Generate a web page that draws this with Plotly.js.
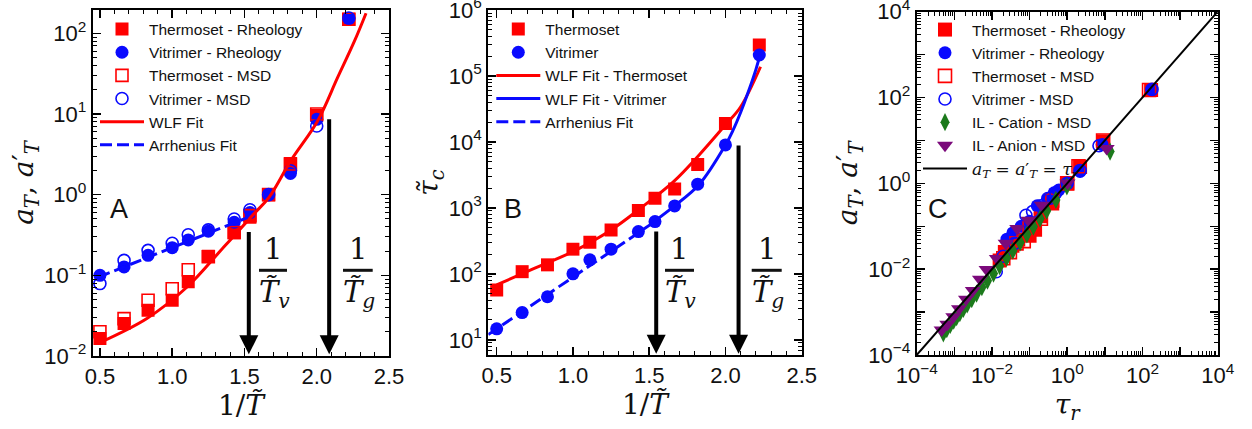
<!DOCTYPE html>
<html>
<head>
<meta charset="utf-8">
<script src="https://cdn.plot.ly/plotly-3.0.1.min.js"></script>
<style>html,body{margin:0;padding:0;background:#fff;}#chart{width:1252px;height:429px;}</style>
</head>
<body>
<div id="chart"></div>
<script>
// ---------- Panel A data ----------
const invT = [0.5, 0.667, 0.833, 1.0, 1.111, 1.25, 1.429, 1.538, 1.667, 1.818, 2.0, 2.222];
const aT_thermoRheo = [0.0165, 0.0253, 0.037, 0.049, 0.083, 0.172, 0.336, 0.525, 1.0, 2.44, 9.6, 150];
const aT_vitriRheo  = [0.1, 0.127, 0.177, 0.22, 0.275, 0.352, 0.455, 0.6, 1.0, 1.83, 8.6, 152];
const aT_thermoMSD  = [0.02, 0.029, 0.049, 0.068, 0.117, 0.17, 0.34, 0.55, 1.0, 2.4, 10, 150];
const aT_vitriMSD   = [0.079, 0.153, 0.204, 0.25, 0.318, 0.366, 0.5, 0.65, 1.0, 1.98, 7.1, 155];
const wlfA_x = [0.49, 0.825, 1.103, 1.357, 1.565, 1.67, 1.82, 2.006, 2.144, 2.26, 2.341];
const wlfA_y = [0.0144, 0.0292, 0.0716, 0.224, 0.578, 0.927, 2.63, 8.2, 28.2, 79.4, 178];
const arrA_x = [0.49, 1.52];
const arrA_y = [0.095, 0.52];

// ---------- Panel B data ----------
const tauC_thermo = [57, 108, 137, 237, 302, 464, 912, 1400, 1940, 4570, 19000, 295000];
const tauC_vitri  = [14.7, 25.9, 45, 100, 163, 237, 437, 620, 1070, 2290, 9000, 208000];
const wlfBT_x = [0.5, 0.75, 1.0, 1.25, 1.443, 1.66, 1.826, 2.0, 2.099, 2.23];
const wlfBT_y = [68, 122, 218, 464, 990, 2510, 6300, 18200, 33900, 138000];
const wlfBV_x = [1.53, 1.66, 1.826, 2.0, 2.05, 2.1, 2.15, 2.2, 2.228];
const wlfBV_y = [617, 1047, 2239, 9000, 15100, 28200, 57500, 126000, 214000];
const arrB_x = [0.445, 1.55];
const arrB_y = [12, 650];

// ---------- Panel C data ----------
const tauR_TR = [0.016, 0.022, 0.035, 0.05, 0.1, 0.14, 0.2, 0.4, 1.0, 2.2, 9.0, 170];
const aTc_TR  = [0.016, 0.025, 0.035, 0.049, 0.06, 0.083, 0.17, 0.34, 1.0, 2.4, 9.5, 150];
const tauR_VR = [0.025, 0.036, 0.06, 0.1, 0.16, 0.3, 0.45, 0.6, 1.0, 2.2, 8.5, 175];
const aTc_VR  = [0.05, 0.07, 0.1, 0.13, 0.3, 0.45, 0.6, 0.7, 1.0, 1.9, 8.0, 152];
const tauR_TM = [0.02, 0.03, 0.045, 0.07, 0.1, 0.2, 0.4, 1.0, 2.0, 9.0, 150];
const aTc_TM  = [0.018, 0.025, 0.04, 0.045, 0.1, 0.15, 0.4, 1.0, 2.5, 10, 150];
const tauR_VM = [0.013, 0.02, 0.04, 0.08, 0.12, 0.2, 0.35, 0.5, 1.0, 2.2, 7.0, 180];
const aTc_VM  = [0.0087, 0.02, 0.04, 0.18, 0.22, 0.3, 0.45, 0.6, 1.0, 2.0, 7.5, 155];
const tauR_ILc = [5.1e-4, 6.3e-4, 7.8e-4, 9.6e-4, 1.15e-3, 1.4e-3, 1.74e-3, 2.2e-3, 2.9e-3, 3.9e-3, 5.4e-3, 7.6e-3, 0.011, 0.016, 0.0245, 0.036, 0.056, 0.085, 0.126, 0.19, 0.285, 0.5, 0.98, 13.8];
const aTc_ILc  = [3.2e-4, 4.0e-4, 5.0e-4, 6.3e-4, 7.6e-4, 9.4e-4, 1.18e-3, 1.5e-3, 2.0e-3, 2.7e-3, 3.8e-3, 5.4e-3, 7.9e-3, 0.0118, 0.0182, 0.027, 0.042, 0.065, 0.098, 0.15, 0.23, 0.41, 0.85, 5.5];
const tauR_ILa = [4.6e-4, 6.5e-4, 9.4e-4, 1.33e-3, 2.04e-3, 3.1e-3, 4.8e-3, 7.2e-3, 0.0135, 0.0232, 0.047, 0.093, 0.21, 1.02, 11.2];
const aTc_ILa  = [3.8e-4, 5.2e-4, 7.8e-4, 1.2e-3, 2.0e-3, 3.2e-3, 5.8e-3, 9.8e-3, 0.0178, 0.04, 0.089, 0.138, 0.31, 1.02, 6.5];
const identX = [1e-4, 1e4];
const identY = [1e-4, 1e4];

// ---------- Tick labels ----------
const linTicks = [0.5, 1.0, 1.5, 2.0, 2.5];
const linTickText = ['0.5', '1.0', '1.5', '2.0', '2.5'];
const logTicksA = [0.01, 0.1, 1, 10, 100];
const logTextA = ['10<sup>\u22122</sup>', '10<sup>\u22121</sup>', '10<sup>0</sup>', '10<sup>1</sup>', '10<sup>2</sup>'];
const logTicksB = [10, 100, 1000, 1e4, 1e5, 1e6];
const logTextB = ['10<sup>1</sup>', '10<sup>2</sup>', '10<sup>3</sup>', '10<sup>4</sup>', '10<sup>5</sup>', '10<sup>6</sup>'];
const logTicksC = [1e-4, 1e-3, 1e-2, 1e-1, 1, 10, 100, 1000, 1e4];
const logTextC = ['10<sup>\u22124</sup>', '', '10<sup>\u22122</sup>', '', '10<sup>0</sup>', '', '10<sup>2</sup>', '', '10<sup>4</sup>'];

const RED = '#ff0000', BLUE = '#0a0aff', GREEN = '#1c7a1c', PURPLE = '#7b0a7b';
const SERIF = 'DejaVu Serif, serif';
const SANS = 'Liberation Sans, Arial, sans-serif';

function sq(col, open, size){ return {symbol: open ? 'square-open' : 'square', size: size, color: col, line: {color: col, width: open ? 1.6 : 0}}; }
function ci(col, open, size){ return {symbol: open ? 'circle-open' : 'circle', size: size, color: col, line: {color: col, width: open ? 1.6 : 0}}; }

const traces = [
  // Panel A
  {x: invT, y: aT_thermoRheo, mode: 'markers', name: 'Thermoset - Rheology', marker: sq(RED, false, 13), xaxis: 'x', yaxis: 'y', legend: 'legend'},
  {x: invT, y: aT_vitriRheo, mode: 'markers', name: 'Vitrimer - Rheology', marker: ci(BLUE, false, 13), xaxis: 'x', yaxis: 'y', legend: 'legend'},
  {x: invT, y: aT_thermoMSD, mode: 'markers', name: 'Thermoset - MSD', marker: sq(RED, true, 12), xaxis: 'x', yaxis: 'y', legend: 'legend'},
  {x: invT, y: aT_vitriMSD, mode: 'markers', name: 'Vitrimer - MSD', marker: ci(BLUE, true, 12), xaxis: 'x', yaxis: 'y', legend: 'legend'},
  {x: wlfA_x, y: wlfA_y, mode: 'lines', name: 'WLF Fit', line: {color: RED, width: 3, shape: 'spline'}, xaxis: 'x', yaxis: 'y', legend: 'legend'},
  {x: arrA_x, y: arrA_y, mode: 'lines', name: 'Arrhenius Fit', line: {color: BLUE, width: 3, dash: '12px,5px'}, xaxis: 'x', yaxis: 'y', legend: 'legend'},
  // Panel B
  {x: invT, y: tauC_thermo, mode: 'markers', name: 'Thermoset', marker: sq(RED, false, 13), xaxis: 'x2', yaxis: 'y2', legend: 'legend2'},
  {x: invT, y: tauC_vitri, mode: 'markers', name: 'Vitrimer', marker: ci(BLUE, false, 13), xaxis: 'x2', yaxis: 'y2', legend: 'legend2'},
  {x: wlfBT_x, y: wlfBT_y, mode: 'lines', name: 'WLF Fit - Thermoset', line: {color: RED, width: 3, shape: 'spline'}, xaxis: 'x2', yaxis: 'y2', legend: 'legend2'},
  {x: wlfBV_x, y: wlfBV_y, mode: 'lines', name: 'WLF Fit - Vitrimer', line: {color: BLUE, width: 3, shape: 'spline'}, xaxis: 'x2', yaxis: 'y2', legend: 'legend2'},
  {x: arrB_x, y: arrB_y, mode: 'lines', name: 'Arrhenius Fit', line: {color: BLUE, width: 3, dash: '12px,5px'}, xaxis: 'x2', yaxis: 'y2', legend: 'legend2'},
  // Panel C
  {x: tauR_TR, y: aTc_TR, mode: 'markers', name: 'Thermoset - Rheology', marker: sq(RED, false, 14), xaxis: 'x3', yaxis: 'y3', legend: 'legend3'},
  {x: tauR_VR, y: aTc_VR, mode: 'markers', name: 'Vitrimer - Rheology', marker: ci(BLUE, false, 13), xaxis: 'x3', yaxis: 'y3', legend: 'legend3'},
  {x: tauR_TM, y: aTc_TM, mode: 'markers', name: 'Thermoset - MSD', marker: sq(RED, true, 13), xaxis: 'x3', yaxis: 'y3', legend: 'legend3'},
  {x: tauR_VM, y: aTc_VM, mode: 'markers', name: 'Vitrimer - MSD', marker: ci(BLUE, true, 12), xaxis: 'x3', yaxis: 'y3', legend: 'legend3'},
  {x: tauR_ILc, y: aTc_ILc, mode: 'markers', name: 'IL - Cation - MSD', marker: {symbol: 'diamond-tall', size: 13, color: GREEN}, xaxis: 'x3', yaxis: 'y3', legend: 'legend3'},
  {x: tauR_ILa, y: aTc_ILa, mode: 'markers', name: 'IL - Anion - MSD', marker: {symbol: 'triangle-down', size: 14, color: PURPLE}, xaxis: 'x3', yaxis: 'y3', legend: 'legend3'},
  {x: identX, y: identY, mode: 'lines', name: '<span style="font-family:DejaVu Serif;font-size:17px"><i>a</i><sub><i>T</i></sub> = <i>a</i>\u2032<sub><i>T</i></sub> = <i>\u03c4</i><sub><i>r</i></sub></span>', line: {color: '#000', width: 2}, xaxis: 'x3', yaxis: 'y3', legend: 'legend3'}
];

const axBase = {
  showline: true, linecolor: '#000', linewidth: 2, mirror: 'allticks',
  ticks: 'inside', ticklen: 8, tickwidth: 1.5, tickcolor: '#000',
  showgrid: false, zeroline: false, ticklabeloverflow: 'allow',
  tickfont: {family: SANS, size: 22, color: '#111'}
};
const minLin = {dtick: 0.1, tick0: 0.5, ticks: 'inside', ticklen: 4, tickwidth: 1, tickcolor: '#000', showgrid: false};
const minLog = {dtick: 'D1', ticks: 'inside', ticklen: 4, tickwidth: 1, tickcolor: '#000', showgrid: false};
const titleFont = {family: SERIF, size: 28, color: '#111'};

function linX(domain, anchor, range, title){
  return Object.assign({}, axBase, {domain: domain, anchor: anchor, range: range, tickmode: 'array', tickvals: linTicks, ticktext: linTickText, minor: minLin, title: {text: title, font: titleFont, standoff: 4}});
}
function logAx(domain, anchor, range, tv, tt, title, so){
  return Object.assign({}, axBase, {domain: domain, anchor: anchor, type: 'log', range: range, tickmode: 'array', tickvals: tv, ticktext: tt, minor: minLog, title: {text: title, font: titleFont, standoff: so}});
}

const PX = v => v / 1252, PY = v => 1 - v / 429;

const legendBase = {xanchor: 'left', yanchor: 'top', bgcolor: 'rgba(0,0,0,0)', borderwidth: 0, font: {family: SANS, size: 15.5, color: '#111'}, tracegroupgap: 0, itemwidth: 44};

function lab(t, cx, cy, font){ return {text: t, x: PX(cx), y: PY(cy), xref: 'paper', yref: 'paper', xanchor: 'center', yanchor: 'middle', showarrow: false, font: font}; }
const labFont = {family: SANS, size: 27, color: '#111'};
const fracFont = {family: SERIF, size: 29, color: '#111'};

const annotations = [
  lab('A', 119.3, 209.3, labFont),
  lab('B', 513.3, 209.3, labFont),
  lab('C', 938.3, 209.3, labFont),
  // arrows panel A
  {x: 1.53, y: -1.98, xref: 'x', yref: 'y', axref: 'x', ayref: 'y', ax: 1.53, ay: Math.log10(0.36), showarrow: true, arrowhead: 2, arrowsize: 0.95, arrowwidth: 4, arrowcolor: '#000', text: ''},
  {x: 2.086, y: -1.98, xref: 'x', yref: 'y', axref: 'x', ayref: 'y', ax: 2.086, ay: Math.log10(9.0), showarrow: true, arrowhead: 2, arrowsize: 0.95, arrowwidth: 4, arrowcolor: '#000', text: ''},
  // arrows panel B
  {x: 1.546, y: 0.79, xref: 'x2', yref: 'y2', axref: 'x2', ayref: 'y2', ax: 1.546, ay: Math.log10(464), showarrow: true, arrowhead: 2, arrowsize: 0.95, arrowwidth: 4, arrowcolor: '#000', text: ''},
  {x: 2.086, y: 0.79, xref: 'x2', yref: 'y2', axref: 'x2', ayref: 'y2', ax: 2.086, ay: Math.log10(9300), showarrow: true, arrowhead: 2, arrowsize: 0.95, arrowwidth: 4, arrowcolor: '#000', text: ''},
];
const fracs = [
  {cx: 273.3, bar: [259, 287], sub: 'v'},
  {cx: 357.7, bar: [343, 372.7], sub: 'g'},
  {cx: 679.3, bar: [665, 694], sub: 'v'},
  {cx: 766.7, bar: [751.7, 781.7], sub: 'g'}
];
const shapes = [];
fracs.forEach(f => {
  annotations.push(lab('1', f.cx, 249, fracFont));
  annotations.push(lab('<i>T\u0303</i><sub><i>' + f.sub + '</i></sub>', f.cx + 1, 294, fracFont));
  shapes.push({type: 'line', xref: 'paper', yref: 'paper', x0: PX(f.bar[0]), x1: PX(f.bar[1]), y0: PY(270.3), y1: PY(270.3), line: {color: '#111', width: 3}});
});

const layout = {
  width: 1252, height: 429, margin: {l: 0, r: 0, t: 0, b: 0},
  paper_bgcolor: '#fff', plot_bgcolor: '#fff',
  font: {family: SANS, size: 22, color: '#111'},
  showlegend: true,
  xaxis: linX([PX(92.7), PX(389)], 'y', [0.45, 2.5], '1/<i>T\u0303</i>'),
  yaxis: logAx([PY(356), PY(10)], 'x', [-2.0005, 2.29], logTicksA, logTextA, '<i>a</i><sub><i>T</i></sub>, <i>a</i>\u2032<sub><i>T</i></sub>', 2),
  xaxis2: linX([PX(488.3), PX(801.7)], 'y2', [0.445, 2.5], '1/<i>T\u0303</i>'),
  yaxis2: logAx([PY(355), PY(10)], 'x2', [0.77, 6.0005], logTicksB, logTextB, '<i>\u03c4\u0303</i><sub><i>c</i></sub>', 2),
  xaxis3: logAx([PX(916.7), PX(1217.7)], 'y3', [-4.0005, 4.0005], logTicksC, logTextC, '<i>\u03c4</i><sub><i>r</i></sub>', 4),
  yaxis3: logAx([PY(355), PY(11.7)], 'x3', [-4.0005, 4.0005], logTicksC, logTextC, '<i>a</i><sub><i>T</i></sub>, <i>a</i>\u2032<sub><i>T</i></sub>', 2),
  legend: Object.assign({}, legendBase, {x: PX(95), y: PY(12.5)}),
  legend2: Object.assign({}, legendBase, {x: PX(491.3), y: PY(12.5)}),
  legend3: Object.assign({}, legendBase, {x: PX(918), y: PY(13)}),
  annotations: annotations,
  shapes: shapes
};

Plotly.newPlot('chart', traces, layout, {displayModeBar: false, staticPlot: true});
</script>
</body>
</html>
